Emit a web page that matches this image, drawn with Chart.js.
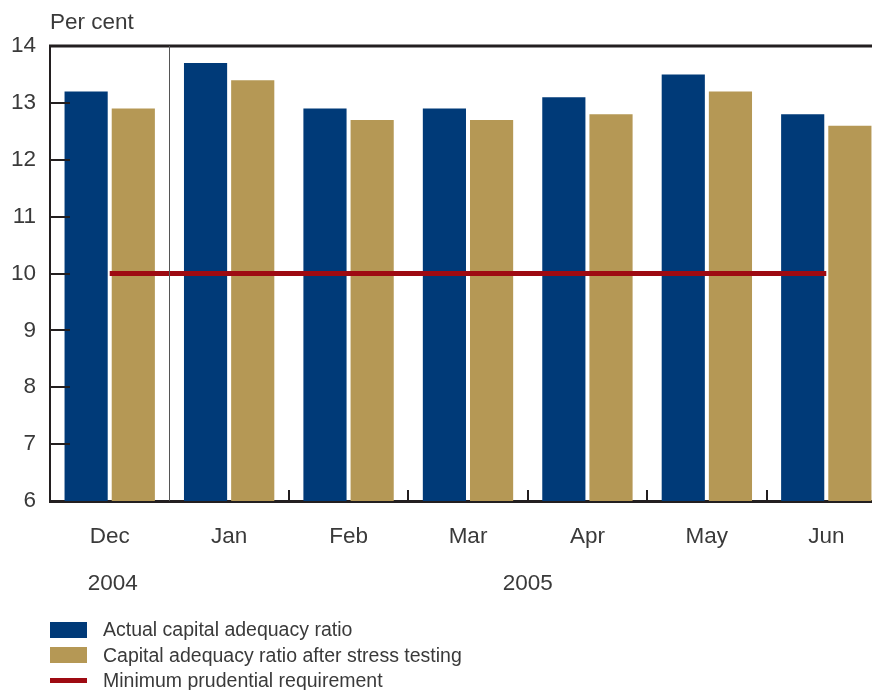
<!DOCTYPE html>
<html><head><meta charset="utf-8">
<script src="https://cdn.jsdelivr.net/npm/chart.js@4/dist/chart.umd.min.js"></script>
<style>
html,body{margin:0;padding:0;background:#fff;overflow:hidden;width:872px;height:690px}
#wrap{position:relative;width:886px;height:690px}
canvas{display:block}
.legend{position:absolute;left:50px;top:617px;font-family:"Liberation Sans",Arial,sans-serif;font-size:19.5px;color:#3a3a3a}
.legend .row{height:25.5px;display:flex;align-items:center;white-space:nowrap}
.legend .sw{width:37px;height:16px;margin-right:16px;flex:none}
.legend .ln{width:37px;height:5px;margin-right:16px;flex:none}
</style>
</head><body>
<div id="wrap"><canvas id="c" width="886" height="690"></canvas>
<div class="legend" id="legend"></div></div>
<script>
const categories = ["Dec","Jan","Feb","Mar","Apr","May","Jun"];
const years = [{label:"2004", from:0, to:0},{label:"2005", from:1, to:6}];
const actualRatio = [13.2,13.7,12.9,12.9,13.1,13.5,12.8];
const stressedRatio = [12.9,13.4,12.7,12.7,12.8,13.2,12.6];
const minimumRequirement = [10,10,10,10,10,10,10];
const yTicks = [6,7,8,9,10,11,12,13,14];
const seriesNames = ["Actual capital adequacy ratio","Capital adequacy ratio after stress testing","Minimum prudential requirement"];

const BLUE = "#003a78", GOLD = "#b59855", RED = "#9e0a12", INK = "#231f20", TXT = "#3a3a3a";
const FONT = "'Liberation Sans', Arial, sans-serif";
const FS = 22.5;

const overlay = {
  id: "overlay",
  afterDatasetsDraw(chart) {
    const {ctx, chartArea: a, scales: {x, y}} = chart;
    ctx.save();
    ctx.strokeStyle = INK; ctx.lineWidth = 2;
    yTicks.slice(1, -1).forEach(v => {
      const py = Math.round(y.getPixelForValue(v));
      ctx.beginPath(); ctx.moveTo(a.left, py); ctx.lineTo(a.left + 20, py); ctx.stroke();
    });
    ctx.lineWidth = 3;
    ctx.beginPath(); ctx.moveTo(a.left - 1, a.top); ctx.lineTo(a.right, a.top); ctx.stroke();
    ctx.lineWidth = 2;
    for (let i = 2; i < categories.length; i++) {
      const px = Math.round((x.getPixelForValue(i - 1) + x.getPixelForValue(i)) / 2);
      ctx.beginPath(); ctx.moveTo(px, a.bottom); ctx.lineTo(px, a.bottom - 11); ctx.stroke();
    }
    ctx.strokeStyle = "#555"; ctx.lineWidth = 1;
    const sx = Math.round((x.getPixelForValue(0) + x.getPixelForValue(1)) / 2) + 0.5;
    ctx.beginPath(); ctx.moveTo(sx, a.top); ctx.lineTo(sx, a.bottom); ctx.stroke();
    ctx.fillStyle = TXT; ctx.font = FS + "px " + FONT; ctx.textBaseline = "middle";
    ctx.textAlign = "left"; ctx.fillText("Per cent", a.left, 23);
    ctx.textAlign = "center";
    years.forEach(yr => {
      const cx = (x.getPixelForValue(yr.from) + x.getPixelForValue(yr.to)) / 2;
      ctx.fillText(yr.label, cx + (yr.from === yr.to ? 3 : 0), 584);
    });
    ctx.restore();
  }
};

new Chart(document.getElementById("c"), {
  data: {
    labels: categories,
    datasets: [
      {type:"line", label:seriesNames[2], data:minimumRequirement, borderColor:RED, borderWidth:5, pointRadius:0, fill:false, order:0},
      {type:"bar", label:seriesNames[0], data:actualRatio, backgroundColor:BLUE, borderWidth:0, order:1, categoryPercentage:0.79, barPercentage:0.915},
      {type:"bar", label:seriesNames[1], data:stressedRatio, backgroundColor:GOLD, borderWidth:0, order:1, categoryPercentage:0.79, barPercentage:0.915}
    ]
  },
  options: {
    responsive:false, animation:false,
    layout:{padding:{top:46,left:0,right:0,bottom:0}},
    plugins:{legend:{display:false}, tooltip:{enabled:false}},
    scales:{
      x:{
        grid:{display:false, drawTicks:false},
        border:{display:true, color:INK, width:3},
        ticks:{color:TXT, font:{family:FONT, size:FS}, padding:22},
        afterFit(s){ s.height = 189; }
      },
      y:{
        min:6, max:14,
        afterBuildTicks(s){ s.ticks = yTicks.map(v => ({value:v})); },
        grid:{display:false, drawTicks:false},
        border:{display:true, color:INK, width:2},
        ticks:{color:TXT, font:{family:FONT, size:FS}, padding:14},
        afterFit(s){ s.width = 50; }
      }
    }
  },
  plugins:[overlay]
});

const lg = document.getElementById("legend");
[[BLUE,"sw"],[GOLD,"sw"],[RED,"ln"]].forEach((d,i) => {
  const r = document.createElement("div"); r.className = "row";
  const s = document.createElement("span"); s.className = d[1]; s.style.background = d[0];
  r.appendChild(s); r.appendChild(document.createTextNode(seriesNames[i])); lg.appendChild(r);
});
</script>
</body></html>
